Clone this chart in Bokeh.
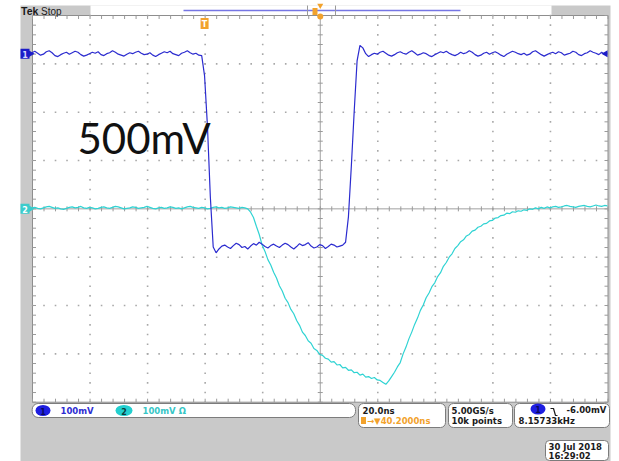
import numpy as np
from bokeh.plotting import figure
from bokeh.models import Range1d, Label, BoxAnnotation
from bokeh.embed import file_html
from bokeh.resources import INLINE

# ---------------------------------------------------------------------------
# Acquisition record (1 ns sample instants, relative to the CH1 trigger)
# ---------------------------------------------------------------------------
t_ns = list(range(-60, 141))

# CH1 (mV): high level, falling edge at the trigger, low plateau, rising edge
ch1_high_a = [2, 5, 1, -3, -1, 4, 6, 2, -4, -6, -2, 1, 3, -1, 2, 5, 3, -2, -5, -3,
              0, 3, 1, 4, -2, -4, 0, 2, 6, 3, -1, -3, -5, -1, 2, 0, 3, 5, 1, -2,
              -1, 2, -3, -6, -2, 1, 4, 2, 5, 0, -2, -4, 1, 3, 6, 2, -1, 1, -3]
ch1_fall = [-4, -46, -150, -296, -400, -412, -404, -398]
ch1_low = [-396, -400, -403, -397, -392, -395, -401, -399, -404, -398, -393, -396, -390, -394,
           -399, -402, -397, -394, -398, -401, -396, -392, -395, -400, -404, -399, -393, -397,
           -395, -391, -398, -402, -400, -395, -397, -403, -399, -394, -396, -400, -398]
ch1_rise = [-396, -390, -337, -233, -119, -15, 17, 12, 0]
ch1_high_b = [-6, -2, 1, -1, 3, 5, 1, -3, -5, -2, 2, 4, 1, -1, 3, 6, 2, -3, -1, 2,
              0, -4, -6, -2, 1, 4, 2, 5, 1, -2, -4, -1, 3, 0, 2, 6, 3, -2, -5, -3,
              1, 3, -1, 2, 4, 1, -3, -6, -1, 2, 5, 3, 0, -2, 1, -3, -1, 4, 6, 2,
              -2, -5, -2, 1, 3, 0, 4, 2, -3, -1, 1, 5, 3, -2, -4, 0, 2, 6, 3, 1,
              -2, 3, -1, 2]
ch1_mv = ch1_high_a + ch1_fall + ch1_low + ch1_rise + ch1_high_b

# CH2 (mV): flat baseline, slow fall, minimum, recovery
ch2_base = [2, 3, 1, 0, 2, 4, 5, 3, 1, 2, 0, -1, 1, 3, 4, 2, 3, 5, 2, 1,
            3, 2, 0, 1, 3, 4, 2, 1, 3, 5, 4, 2, 0, 1, 2, 4, 3, 1, 2, 3,
            5, 3, 1, 0, 2, 3, 1, 2, 4, 3, 1, 2, 0, 2, 4, 5, 3, 2, 1, 3,
            2, 0, 1, 3, 4, 2, 3, 1, 2, 4, 3, 2, 1, 3, 2]
ch2_fall = [0, -7, -18, -36, -53, -75, -88, -105, -116, -131, -143, -159, -170, -185, -194,
            -208, -217, -231, -241, -255, -262, -273, -278, -289, -293, -301, -303, -309,
            -311, -317, -316, -323, -322, -329, -328, -334, -333, -339, -338, -344, -342,
            -348, -347, -351, -349, -354, -355, -359, -363]
ch2_recover = [-356, -347, -338, -327, -318, -300, -286, -269, -255, -239, -226, -210, -199,
               -184, -174, -161, -153, -140, -132, -119, -111, -100, -93, -82, -76, -68, -64,
               -56, -53, -46, -44, -38, -36, -31, -30, -25, -24, -19, -18, -14, -13, -9, -10,
               -6, -7, -4, -5, -2, -3, 0, -1, 2, 0, 3, 1, 4, 2,
               4, 5, 3, 4, 6, 7, 5, 4, 3, 5, 6, 7, 5, 4, 6, 8, 6, 5, 7, 6]
ch2_mv = ch2_base + ch2_fall + ch2_recover

# Scope settings
time_per_div_ns = 20.0
trigger_delay_ns = 40.2
ch1_scale_mv, ch2_scale_mv = 100.0, 100.0
ch1_pos_div, ch2_pos_div = 3.21, 0.0

# ---------------------------------------------------------------------------
# Screen geometry: the figure frame covers the whole canvas, graticule inside
# ---------------------------------------------------------------------------
W, H = 619, 461
GL, GR, GT, GB = 32.0, 607.5, 15.0, 401.7
t_left = trigger_delay_ns - 5 * time_per_div_ns
t_right = trigger_delay_ns + 5 * time_per_div_ns
sx = (GR - GL) / (10 * time_per_div_ns)   # px per ns
sy = (GB - GT) / 8.0                      # px per division
x_lo = t_left - GL / sx
x_hi = x_lo + W / sx
y_hi = 4.0 + GT / sy
y_lo = y_hi - H / sy


def X(px):
    return x_lo + px / sx


def Y(py):
    return y_hi - py / sy


def PX(t):
    return (t - x_lo) * sx


p = figure(width=W, height=H, x_range=Range1d(x_lo, x_hi), y_range=Range1d(y_lo, y_hi),
           x_axis_type=None, y_axis_type=None, toolbar_location=None,
           output_backend="svg", min_border=0, outline_line_color=None,
           background_fill_color="white", border_fill_color="white")


def box(l, t, r, b, fill, line=None, radius=0, lw=1.0):
    p.add_layout(BoxAnnotation(left=X(l), right=X(r), top=Y(t), bottom=Y(b),
                               fill_color=fill, fill_alpha=1.0,
                               line_color=line, line_alpha=1.0 if line else 0.0,
                               line_width=lw, border_radius=radius, level="underlay"))


def label(text, px, py, size=8.5, color="#1a1a1a", font="DejaVu Sans", style="bold",
          align="left", baseline="middle"):
    p.add_layout(Label(x=X(px), y=Y(py), text=text, text_font=font,
                       text_font_size=f"{size}px", text_font_style=style,
                       text_color=color, text_align=align, text_baseline=baseline))


ORANGE = "#f2a22c"
BLUE = "#2b2bcf"
CYAN = "#2fd3d3"

# Instrument panels
box(20, 5, 610, 461, "#c9c9c9")
box(90, 5, 551, 15, "white")
box(GL, GT, GR, GB, "white", "#8e8e8e")

# Graticule: dotted division lines
dx, dy = [], []
div_t = [t_left + time_per_div_ns * k for k in range(11)]
for k in range(1, 10):
    if k == 5:
        continue
    for v in np.arange(-4.0, 4.001, 0.2):
        dx.append(div_t[k])
        dy.append(v)
for j in (-3, -2, -1, 1, 2, 3):
    for i in range(51):
        dx.append(t_left + 4.0 * i)
        dy.append(j)
p.scatter(dx, dy, marker="square", size=1.6, color="#a8a8a8", line_color=None)

# Center axes with minor ticks, and ticks along the border
p.segment(x0=[t_left, trigger_delay_ns], y0=[0, -4], x1=[t_right, trigger_delay_ns], y1=[0, 4],
          color="#a0a0a0", line_width=1)
sx0, sy0, sx1, sy1 = [], [], [], []
for i in range(51):
    tx = t_left + 4.0 * i
    sx0 += [tx, tx, tx]
    sx1 += [tx, tx, tx]
    sy0 += [-2.5 / sy, 4.0, -4.0]
    sy1 += [2.5 / sy, 4.0 - 3.5 / sy, -4.0 + 3.5 / sy]
for i in range(41):
    v = -4.0 + 0.2 * i
    sx0 += [trigger_delay_ns - 2.5 / sx, t_left, t_right]
    sx1 += [trigger_delay_ns + 2.5 / sx, t_left + 3.5 / sx, t_right - 3.5 / sx]
    sy0 += [v, v, v]
    sy1 += [v, v, v]
p.segment(x0=sx0, y0=sy0, x1=sx1, y1=sy1, color="#9a9a9a", line_width=1)

# Waveforms
y1 = ch1_pos_div + np.array(ch1_mv, dtype=float) / ch1_scale_mv
y2 = ch2_pos_div + np.array(ch2_mv, dtype=float) / ch2_scale_mv
p.line(t_ns, y2, color=CYAN, line_width=1.2)
p.line(t_ns, y1, color=BLUE, line_width=1.2)

# Channel ground markers
p.rect(x=[X(24.5)], y=[ch1_pos_div], width=9 / sx, height=10 / sy, fill_color="#1c1cc8", line_color=None)
p.scatter(x=[X(29.5)], y=[ch1_pos_div], marker="triangle", angle=-np.pi / 2, size=8,
          fill_color="#1c1cc8", line_color=None)
label("1", 24.5, 53.5, size=8, color="#d8d8ff", align="center")
p.rect(x=[X(24.5)], y=[ch2_pos_div], width=9 / sx, height=10 / sy, fill_color="#3ccccc", line_color=None)
p.scatter(x=[X(29.5)], y=[ch2_pos_div], marker="triangle", angle=-np.pi / 2, size=8,
          fill_color="#3ccccc", line_color=None)
label("2", 24.5, 208.5, size=8, color="white", align="center")
p.scatter(x=[X(605)], y=[ch1_pos_div], marker="triangle", angle=np.pi / 2, size=7,
          fill_color="#1c1cc8", line_color=None)

# Trigger marker
p.rect(x=[0.0], y=[Y(23)], width=8 / sx, height=11 / sy, fill_color=ORANGE, line_color=None)
label("T", PX(0.0), 23.5, size=8, color="white", align="center")

# Top strip: record view
p.segment(x0=[X(183)], y0=[Y(10)], x1=[X(460)], y1=[Y(10)], color="#7676e4", line_width=1.5)
p.segment(x0=[X(307), X(335)], y0=[Y(5), Y(5)], x1=[X(307), X(335)], y1=[Y(15), Y(15)],
          color="#9a9a9a", line_width=1)
p.rect(x=[X(314.5)], y=[Y(11)], width=5 / sx, height=7 / sy, fill_color=ORANGE, line_color=None)
p.scatter(x=[trigger_delay_ns], y=[Y(5)], marker="inverted_triangle", size=6, fill_color=ORANGE,
          line_color=None)
p.scatter(x=[trigger_delay_ns], y=[Y(16)], marker="circle", size=6, fill_color=ORANGE,
          line_color=None)
label("Tek", 20.5, 10.5, size=10.5, color="#1a1a1a", font="Liberation Sans")
label("Stop", 40.5, 10.5, size=10, color="#1a1a1a", font="Liberation Sans", style="normal")

# Annotation
label("500mV", 77, 137, size=42, color="#111111", font="Lato", style="normal",
      baseline="alphabetic")

# Status readouts
box(31.7, 403, 355, 417, "white", "#7c7c7c", radius=6)
box(358, 403, 445, 427, "white", "#7c7c7c", radius=5)
box(448, 403, 512, 427, "white", "#7c7c7c", radius=5)
box(514, 403, 609, 427, "white", "#7c7c7c", radius=5)
box(545, 440, 608, 460, "white", "#7c7c7c", radius=4)

p.ellipse(x=[X(42.5), X(537.5)], y=[Y(410), Y(408.5)], width=15 / sx, height=11 / sy,
          fill_color="#1e1ee0", line_color=None)
p.ellipse(x=[X(123.5)], y=[Y(410)], width=17 / sx, height=11 / sy,
          fill_color="#22cfcf", line_color=None)
label("1", 42.5, 410.5, size=8, color="#0a0a60", align="center")
label("1", 537.5, 409, size=8, color="#0a0a60", align="center")
label("2", 123.5, 410.5, size=8, color="#0d3d3d", align="center")
label("100mV", 60, 410.5, color="#2d2dd2")
label("100mV \u03a9", 142, 410.5, color="#36c6c6")

label("20.0ns", 362, 410.5)
p.rect(x=[X(363)], y=[Y(420)], width=5 / sx, height=7 / sy, fill_color=ORANGE, line_color=None)
label("\u2192\u25bc40.2000ns", 366.5, 420.5, color=ORANGE)

label("5.00GS/s", 451, 410.5)
label("10k points", 451, 420.5)

# falling-edge slope icon
p.line(x=[X(550), X(553), X(555), X(557)], y=[Y(408), Y(408), Y(415), Y(415)],
       color="#1a1a1a", line_width=1.2)
label("-6.00mV", 566, 409.5)
label("8.15733kHz", 518, 420.5)

label("30 Jul  2018", 548, 446)
label("16:29:02", 548, 455.5)

open("out.html", "w").write(file_html(p, INLINE))
